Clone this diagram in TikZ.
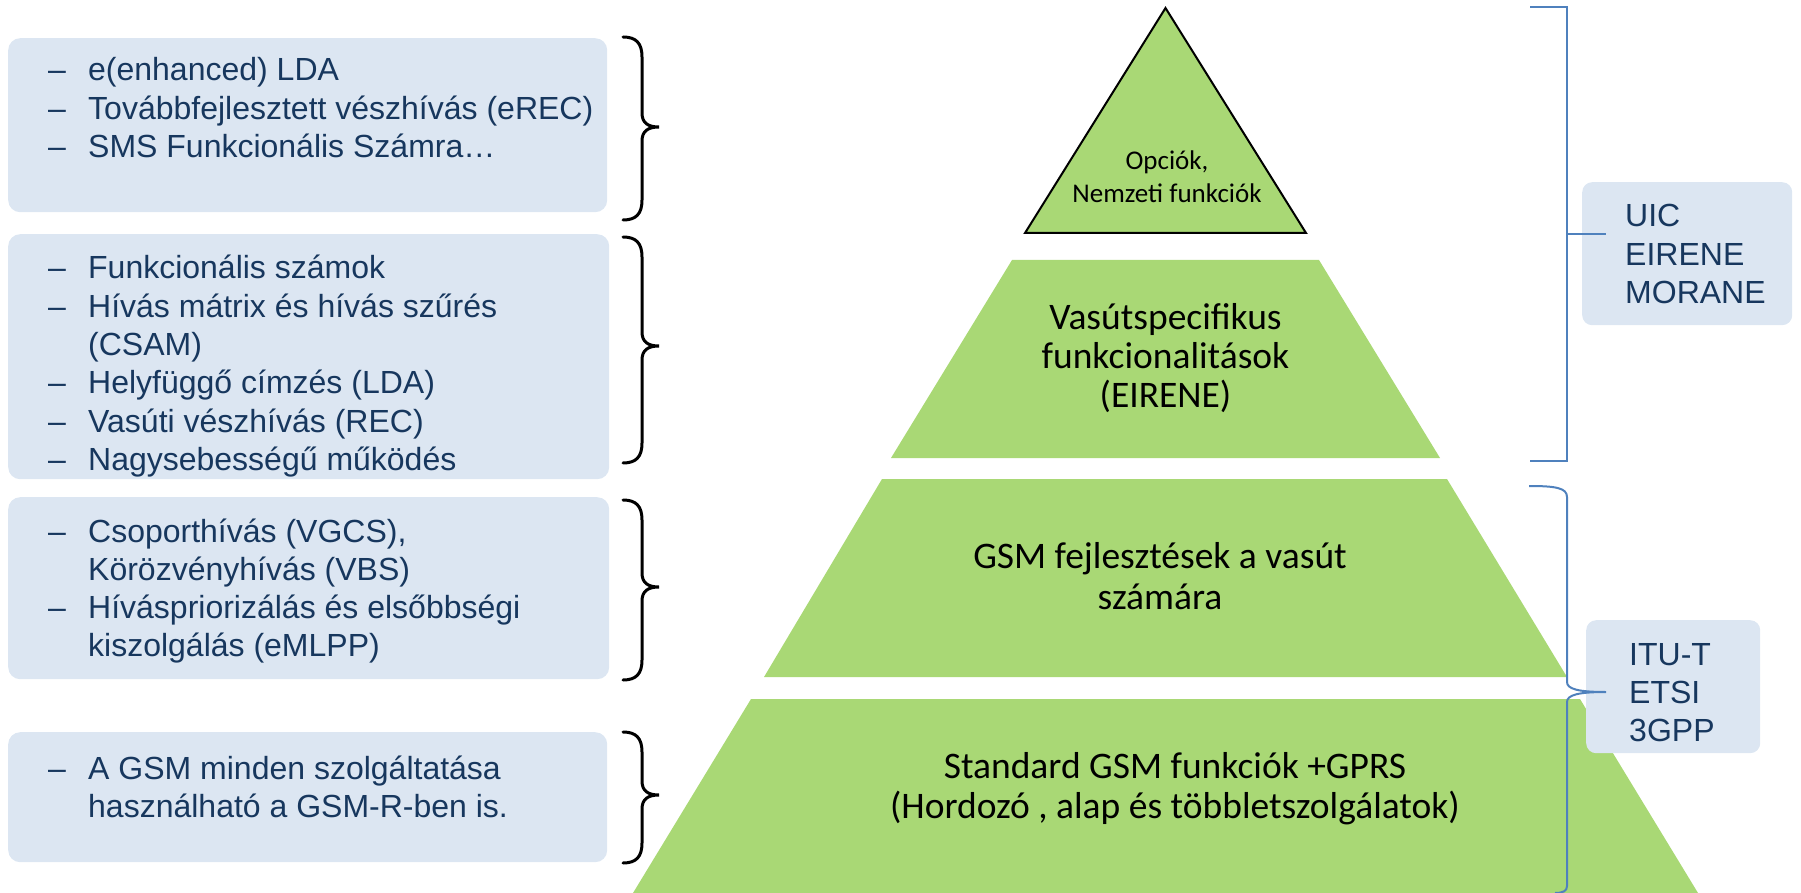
\documentclass[tikz,border=0pt]{standalone}
\usepackage{fontspec}
\newfontfamily\listfont{Liberation Sans}
\newfontfamily\pyrfont{Carlito}
\definecolor{boxfill}{RGB}{220,230,242}
\definecolor{boxtext}{RGB}{23,55,94}
\definecolor{levelgreen}{RGB}{169,216,117}
\definecolor{stdblue}{RGB}{79,129,189}
% list line with a leading dash, and a continuation line aligned to it
\newcommand\dashitem{\makebox[40pt][l]{–}}
\newcommand\contline{\hspace*{40pt}}
% black curly brace: top y, tip y, bottom y
\newcommand\blackbrace[3]{%
  \draw[bracebk] (623,#1) .. controls (636,#1) and (642,#1+6) .. (642,#1+20)
    -- (642,#2-14) .. controls (642,#2-4) and (648,#2) .. (659,#2)
    .. controls (648,#2) and (642,#2+4) .. (642,#2+14)
    -- (642,#3-20) .. controls (642,#3-6) and (636,#3) .. (623,#3);}

\begin{document}
\begin{tikzpicture}[x=1pt,y=-1pt,
  infobox/.style={fill=boxfill, draw=none, rounded corners=12pt, anchor=north west, inner sep=0pt},
  listtext/.style={anchor=base west, inner sep=0pt, text=boxtext,
    font=\listfont\fontsize{32}{38.3}\selectfont},
  level/.style={fill=levelgreen, draw=none},
  leveltext/.style={anchor=base, inner sep=0pt, text=black,
    font=\pyrfont\fontsize{37.5}{39}\selectfont},
  bracebk/.style={draw=black, line width=3pt, line cap=round},
  bracebl/.style={draw=stdblue, line width=2pt},
]
\useasboundingbox (0,0) rectangle (1801,893);

% pyramid levels
\draw[level, draw=black, line width=2pt] (1165.5,8) -- (1306,233) -- (1025,233) -- cycle;
\fill[level] (1012,260) -- (1319,260) -- (1440,458) -- (891,458) -- cycle;
\fill[level] (882,479) -- (1447,479) -- (1567,677) -- (764,677) -- cycle;
\fill[level] (751,699) -- (1580,699) -- (1698,893) -- (633,893) -- cycle;

\node[leveltext, font=\pyrfont\fontsize{27}{33}\selectfont] (lvlopt) at (1167,170)
  {\parbox[t]{300pt}{\centering Opciók,\\Nemzeti funkciók}};
\node[leveltext] (lvlrail) at (1165.5,329)
  {\parbox[t]{500pt}{\centering Vasútspecifikus\\funkcionalitások\\(EIRENE)}};
\node[leveltext, font=\pyrfont\fontsize{37.5}{41}\selectfont] (lvlgsmr) at (1160,568)
  {\parbox[t]{600pt}{\centering GSM fejlesztések a vasút\\számára}};
\node[leveltext, font=\pyrfont\fontsize{37.5}{40}\selectfont] (lvlstd) at (1175,778)
  {\parbox[t]{800pt}{\centering Standard GSM funkciók +GPRS\\(Hordozó , alap és többletszolgálatok)}};

% feature lists
\node[infobox, minimum width=599pt, minimum height=174pt] (box1) at (8,38) {};
\node[infobox, minimum width=601pt, minimum height=245pt] (box2) at (8,234) {};
\node[infobox, minimum width=601pt, minimum height=182pt] (box3) at (8,497) {};
\node[infobox, minimum width=599pt, minimum height=130pt] (box4) at (8,732) {};

\node[listtext] (list1) at (48,81) {\parbox[t]{560pt}{%
  \dashitem e(enhanced) LDA\\
  \dashitem Továbbfejlesztett vészhívás (eREC)\\
  \dashitem SMS Funkcionális Számra…}};
\node[listtext] (list2) at (48,279) {\parbox[t]{560pt}{%
  \dashitem Funkcionális számok\\
  \dashitem Hívás mátrix és hívás szűrés\\
  \contline (CSAM)\\
  \dashitem Helyfüggő címzés (LDA)\\
  \dashitem Vasúti vészhívás (REC)\\
  \dashitem Nagysebességű működés}};
\node[listtext] (list3) at (48,542) {\parbox[t]{560pt}{%
  \dashitem Csoporthívás (VGCS),\\
  \contline Körözvényhívás (VBS)\\
  \dashitem Híváspriorizálás és elsőbbségi\\
  \contline kiszolgálás (eMLPP)}};
\node[listtext] (list4) at (48,779) {\parbox[t]{560pt}{%
  \dashitem A GSM minden szolgáltatása\\
  \contline használható a GSM-R-ben is.}};

% braces from the lists to the levels
\blackbrace{37}{127}{220}
\blackbrace{237}{346}{463}
\blackbrace{500}{587}{680}
\blackbrace{732}{795}{863}

% standardisation bodies
\node[infobox, rounded corners=10pt, minimum width=210pt, minimum height=143pt] (uic) at (1582,182) {};
\node[listtext] (uictext) at (1625,227) {\parbox[t]{160pt}{UIC\\EIRENE\\MORANE}};
\node[infobox, rounded corners=10pt, minimum width=174pt, minimum height=133pt] (itu) at (1586,620) {};
\node[listtext] (itutext) at (1629,665) {\parbox[t]{130pt}{ITU-T\\ETSI\\3GPP}};

\coordinate (uictip) at (1606,234);
\coordinate (itutip) at (1606,692);
\draw[bracebl] (1530,7) -- (1567,7) -- (1567,461) -- (1530,461);
\draw[bracebl] (1567,234) -- (uictip);
\draw[bracebl] (1529,486) .. controls (1556,486) and (1567,488) .. (1567,497)
  -- (1567,682) .. controls (1567,689) and (1578,692) .. (itutip)
  .. controls (1578,692) and (1567,695) .. (1567,702)
  -- (1567,886) .. controls (1567,891) and (1563,893) .. (1555,893);
\end{tikzpicture}
\end{document}
